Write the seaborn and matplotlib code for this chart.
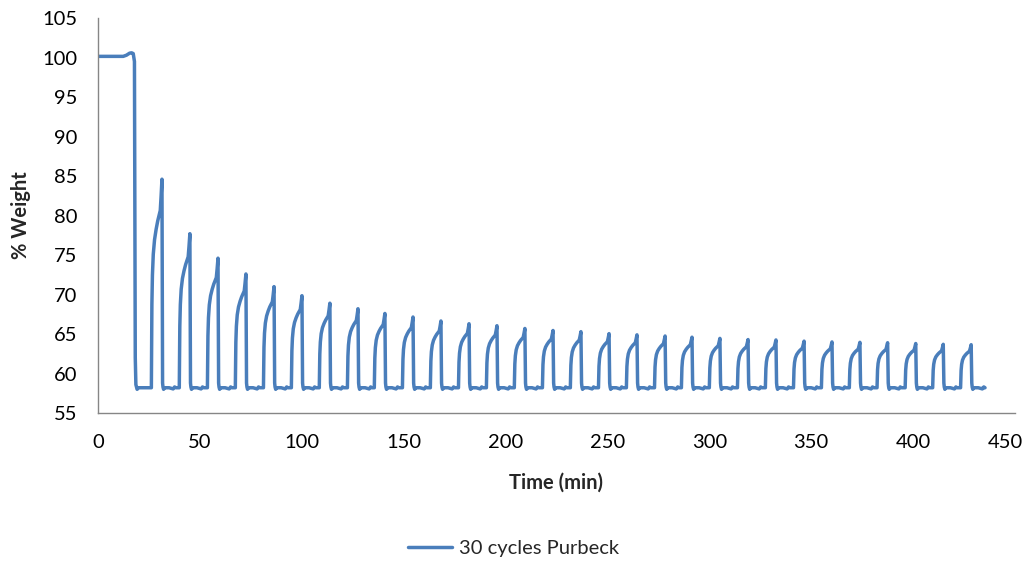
import numpy as np
import pandas as pd
import matplotlib
matplotlib.use("Agg")
import matplotlib.pyplot as plt
import matplotlib.transforms as mtransforms
import seaborn as sns

# --- data -----------------------------------------------------------------
series_name = "30 cycles Purbeck"

# initial hold before the first drop (time min, % weight)
initial_time = [0.0, 12.4, 14.0, 15.5, 16.5, 17.3, 17.9, 18.1, 18.3, 18.6, 19.2, 20.0]
initial_weight = [100.15, 100.15, 100.3, 100.55, 100.6, 100.5, 99.5, 80.0, 62.0, 58.6, 58.0, 58.2]

# baseline weight reached after every drop
baseline = 58.2

# time (min) and weight at the top of each of the 30 cycles
peak_time = [31.4, 45.1, 58.9, 72.6, 86.4, 100.1, 113.8, 127.6, 140.8, 154.6,
             168.3, 182.1, 195.8, 209.5, 223.3, 237.0, 250.8, 264.5, 278.3, 291.5,
             305.2, 319.0, 332.7, 346.5, 360.2, 373.9, 387.5, 401.3, 414.8, 428.5]
peak_weight = [84.6, 77.7, 74.6, 72.6, 71.0, 69.85, 68.9, 68.2, 67.6, 67.15,
               66.65, 66.3, 66.05, 65.7, 65.45, 65.3, 65.05, 64.9, 64.75, 64.6,
               64.45, 64.3, 64.25, 64.1, 64.0, 63.95, 63.9, 63.8, 63.7, 63.65]

# shape of one uptake step: fraction of the step duration vs fraction of the gain
rise_duration = 5.2
rise_frac_t = [0.0, 0.02, 0.05, 0.10, 0.18, 0.30, 0.45, 0.60, 0.75, 0.84, 0.92, 1.0]
rise_frac_w = [0.0, 0.20, 0.40, 0.54, 0.64, 0.71, 0.76, 0.80, 0.83, 0.85, 0.92, 1.0]

# fall back to baseline: minutes after the peak vs offset from baseline
drop_dt = [0.30, 0.50, 0.80, 1.20, 3.5, 5.5, 6.2, 6.8]
drop_dw = [0.6, 0.1, -0.2, 0.0, 0.0, -0.15, 0.1, 0.0]

end_time = 434.3

# --- assemble the trace -----------------------------------------------------
t_all = list(initial_time)
w_all = list(initial_weight)
for tp, wp in zip(peak_time, peak_weight):
    start = tp - rise_duration
    t_all.append(start - 0.3)
    w_all.append(baseline)
    for ft, fw in zip(rise_frac_t, rise_frac_w):
        t_all.append(start + ft * rise_duration)
        w_all.append(baseline + fw * (wp - baseline))
    for dt, dw in zip(drop_dt, drop_dw):
        t_all.append(tp + dt)
        w_all.append(baseline + dw)
t_all.append(end_time)
w_all.append(baseline)

df = pd.DataFrame({"Time (min)": t_all, "% Weight": w_all, "series": series_name})

# --- figure -------------------------------------------------------------------
sns.set_style("white")
plt.rcParams["font.family"] = ["Lato", "DejaVu Sans"]

fig = plt.figure(figsize=(10.27, 5.64), dpi=100)
ax = fig.add_axes([0.0954, 0.2677, 0.8929, 0.7003])

line_color = "#4A7EBB"
sns.lineplot(data=df, x="Time (min)", y="% Weight", hue="series",
             palette=[line_color], sort=False, estimator=None,
             linewidth=2.5, ax=ax)

ax.set_xlim(0, 450)
ax.set_ylim(55, 105)
ax.set_xticks(np.arange(0, 451, 50))
ax.set_yticks(np.arange(55, 106, 5))

axis_grey = "#868686"
for side in ("top", "right"):
    ax.spines[side].set_visible(False)
for side in ("left", "bottom"):
    ax.spines[side].set_color(axis_grey)
    ax.spines[side].set_linewidth(1.0)

fs = 14.5
ax.tick_params(axis="both", direction="out", length=4, width=1.0,
               color=axis_grey, labelsize=fs, labelcolor="black")
ax.tick_params(axis="y", pad=11)
ax.tick_params(axis="x", pad=11)

# keep the last x label inside the figure edge
last = ax.get_xticklabels()[-1]
last.set_transform(last.get_transform() +
                   mtransforms.ScaledTranslation(-10 / 100, 0, fig.dpi_scale_trans))

ax.set_xlabel("Time (min)", fontsize=fs, fontweight="bold", labelpad=16)
ax.set_ylabel("% Weight", fontsize=fs, fontweight="bold", labelpad=8)

ax.legend(handles=ax.get_lines()[:1], labels=[series_name],
          loc="center", bbox_to_anchor=(0.5, 0.028),
          bbox_transform=fig.transFigure, frameon=False,
          fontsize=fs, handlelength=2.2, handletextpad=0.35)

fig.savefig("out.png", dpi=100)
